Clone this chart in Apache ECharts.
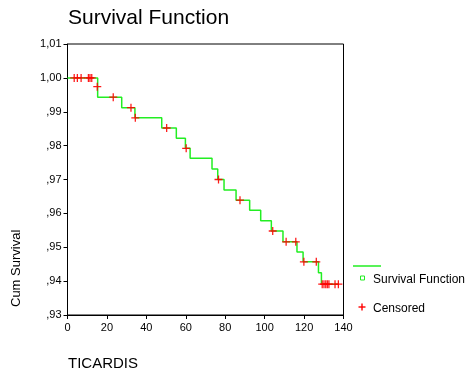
<!DOCTYPE html>
<html>
<head>
<meta charset="utf-8">
<script src="https://cdn.jsdelivr.net/npm/echarts@6/dist/echarts.min.js"></script>
<style>
html,body{margin:0;padding:0;background:#fff;}
#chart{width:468px;height:376px;}
</style>
</head>
<body>
<div id="chart"></div>
<script>
// Survival step function: event times and cumulative survival after each step
var stepTimes = [0, 15.3, 27.5, 34.2, 47.8, 55.2, 59.8, 62.2, 73.3, 76.2, 79.4, 85.5, 92.4, 98.0, 103.4, 109.3, 116.4, 119.5, 127.3, 128.8, 137.4];
var stepSurvival = [1.0000, 0.9943, 0.9912, 0.9882, 0.9852, 0.9822, 0.9792, 0.9763, 0.9731, 0.9700, 0.9669, 0.9639, 0.9609, 0.9578, 0.9548, 0.9516, 0.9486, 0.9457, 0.9425, 0.9391, 0.9391];
// Censored observations
var censorTimes = [3.4, 5.0, 6.9, 10.6, 11.4, 12.3, 15.1, 23.2, 32.2, 34.4, 50.3, 60.2, 76.6, 87.5, 104.1, 110.9, 115.8, 119.9, 126.2, 129.2, 130.1, 131.0, 131.8, 132.6, 135.7, 137.4];
var censorSurvival = [1.0, 1.0, 1.0, 1.0, 1.0, 1.0, 0.9974, 0.9943, 0.9912, 0.9882, 0.9852, 0.9792, 0.9700, 0.9639, 0.9548, 0.9516, 0.9516, 0.9457, 0.9457, 0.9391, 0.9391, 0.9391, 0.9391, 0.9391, 0.9391, 0.9391];
var xTicks = [0, 20, 40, 60, 80, 100, 120, 140];
var yTickLabels = [',93', ',94', ',95', ',96', ',97', ',98', ',99', '1,00', '1,01'];

var titleText = 'Survival Function';
var xName = 'TICARDIS';
var yName = 'Cum Survival';
var seriesNames = ['Survival Function', 'Censored'];

var FONT = 'Liberation Sans, Arial, sans-serif';
var plusPath = 'path://M4.2,0 H5.8 V4.2 H10 V5.8 H5.8 V10 H4.2 V5.8 H0 V4.2 H4.2 Z';

var stepData = stepTimes.map(function (t, i) { return [t, stepSurvival[i]]; });
var censorData = censorTimes.map(function (t, i) { return [t, censorSurvival[i]]; });

var chart = echarts.init(document.getElementById('chart'), null, {renderer: 'canvas'});
chart.setOption({
  animation: false,
  backgroundColor: '#ffffff',
  title: {
    text: titleText,
    left: 68,
    top: 8,
    padding: 0,
    textStyle: {fontFamily: FONT, fontSize: 21, fontWeight: 'normal', color: '#000'}
  },
  grid: {
    left: 67.5, right: 124.5, top: 44, bottom: 61,
    show: true, borderColor: '#000', borderWidth: 1, backgroundColor: 'transparent'
  },
  xAxis: {
    type: 'value', min: 0, max: 140, interval: 20,
    axisLine: {show: true, lineStyle: {color: '#000', width: 1}},
    axisTick: {show: true, length: 4, lineStyle: {color: '#000'}},
    splitLine: {show: false},
    axisLabel: {
      margin: 7, color: '#000', fontFamily: FONT, fontSize: 11,
      formatter: function (v) { return xTicks.indexOf(v) >= 0 ? String(v) : ''; }
    }
  },
  yAxis: {
    type: 'value', min: 0.93, max: 1.01, interval: 0.01,
    axisLine: {show: true, onZero: false, lineStyle: {color: '#000', width: 1}},
    axisTick: {show: true, length: 4, lineStyle: {color: '#000'}},
    splitLine: {show: false},
    axisLabel: {
      margin: 6, color: '#000', fontFamily: FONT, fontSize: 11,
      formatter: function (v) {
        var idx = Math.round((v - 0.93) / 0.01);
        return yTickLabels[idx] !== undefined ? yTickLabels[idx] : '';
      }
    }
  },
  graphic: [
    {type: 'text', x: 68, y: 356, style: {text: xName, font: '15px ' + FONT, fill: '#000'}},
    {type: 'text', x: 10, y: 307, rotation: Math.PI / 2, style: {text: yName, font: '13px ' + FONT, fill: '#000', align: 'left', verticalAlign: 'top'}},
    {type: 'line', shape: {x1: 353, y1: 266, x2: 381, y2: 266}, style: {stroke: '#22ee22', lineWidth: 1.5}},
    {type: 'rect', shape: {x: 360.5, y: 276, width: 4, height: 4}, style: {stroke: '#22ee22', fill: '#fff', lineWidth: 1}},
    {type: 'text', x: 373, y: 280, style: {text: seriesNames[0], font: '12px ' + FONT, fill: '#000', verticalAlign: 'middle'}},
    {type: 'rect', shape: {x: 361.3, y: 303.5, width: 1.4, height: 7}, style: {fill: '#ff0000'}},
    {type: 'rect', shape: {x: 358.5, y: 306.3, width: 7, height: 1.4}, style: {fill: '#ff0000'}},
    {type: 'text', x: 373, y: 309, style: {text: seriesNames[1], font: '12px ' + FONT, fill: '#000', verticalAlign: 'middle'}}
  ],
  series: [
    {
      name: seriesNames[0],
      type: 'line',
      step: 'end',
      data: stepData,
      showSymbol: false,
      lineStyle: {color: '#22ee22', width: 1.5},
      z: 2
    },
    {
      name: seriesNames[1],
      type: 'scatter',
      data: censorData,
      symbol: plusPath,
      symbolSize: 8,
      itemStyle: {color: '#ff0000', opacity: 0.9},
      z: 3
    }
  ]
});
</script>
</body>
</html>
